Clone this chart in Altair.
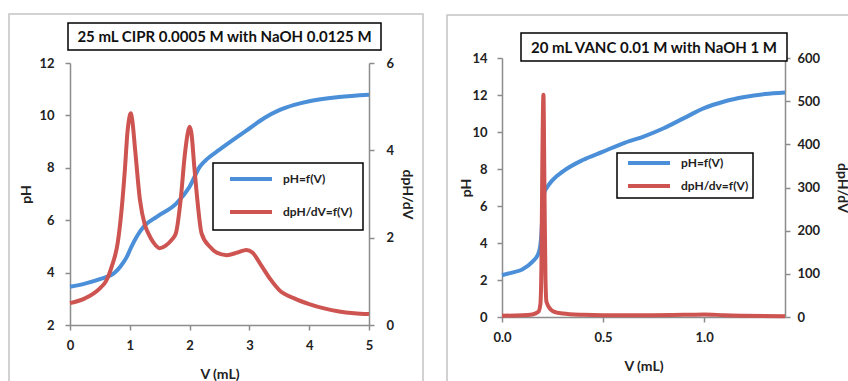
import altair as alt
import pandas as pd

# ---- CIPR titration (25 mL 0.0005 M with NaOH 0.0125 M) ----
cipr_v_ph = [0, 0.25, 0.5, 0.75, 0.85, 0.95, 1.03, 1.115, 1.23, 1.45, 1.78, 2.0,
             2.17, 2.3, 2.5, 2.75, 3.0, 3.25, 3.5, 3.75, 4.0, 4.5, 5.0]
cipr_ph = [3.46, 3.58, 3.75, 4.0, 4.25, 4.6, 5.0, 5.37, 5.75, 6.13, 6.64, 7.28,
           8.04, 8.35, 8.69, 9.1, 9.5, 9.9, 10.2, 10.4, 10.54, 10.7, 10.79]

cipr_v_d = [0, 0.25, 0.5, 0.6, 0.7, 0.8, 0.86, 0.92, 0.96, 1.0, 1.015, 1.04, 1.09,
            1.17, 1.25, 1.31, 1.4, 1.5, 1.6, 1.7, 1.77, 1.85, 1.92, 1.97, 2.0, 2.03,
            2.08, 2.13, 2.2, 2.34, 2.45, 2.62, 2.8, 2.95, 3.05, 3.2, 3.35, 3.5, 3.75,
            4.0, 4.25, 4.5, 4.75, 5.0]
cipr_d = [0.5, 0.61, 0.84, 1.0, 1.35, 1.9, 2.6, 3.6, 4.4, 4.8, 4.85, 4.7, 4.0,
          2.86, 2.3, 2.1, 1.88, 1.76, 1.82, 1.95, 2.1, 2.86, 3.9, 4.4, 4.54, 4.4,
          3.6, 2.86, 2.1, 1.79, 1.66, 1.60, 1.66, 1.72, 1.66, 1.36, 1.05, 0.8, 0.61,
          0.48, 0.38, 0.31, 0.27, 0.25]

# ---- VANC titration (20 mL 0.01 M with NaOH 1 M) ----
vanc_v_ph = [0, 0.05, 0.1, 0.15, 0.18, 0.19, 0.195, 0.2, 0.205, 0.21, 0.22, 0.25,
             0.3, 0.4, 0.5, 0.6, 0.7, 0.8, 0.9, 1.0, 1.1, 1.2, 1.3, 1.4]
vanc_ph = [2.26, 2.4, 2.57, 2.98, 3.43, 3.9, 4.5, 5.6, 6.4, 6.75, 6.96, 7.4,
           7.86, 8.49, 8.94, 9.39, 9.75, 10.2, 10.75, 11.29, 11.65, 11.89, 12.05, 12.14]

vanc_v_d = [0, 0.1, 0.15, 0.18, 0.19, 0.195, 0.2, 0.205, 0.21, 0.215, 0.22, 0.25,
            0.3, 0.4, 0.5, 0.7, 0.9, 1.0, 1.1, 1.2, 1.4]
vanc_d = [3, 4, 6, 12, 30, 120, 380, 515, 300, 90, 35, 14, 8, 5, 4, 4, 5, 6, 4, 3, 2]

cipr_labels = ["pH=f(V)", "dpH/dV=f(V)"]
vanc_labels = ["pH=f(V)", "dpH/dv=f(V)"]
cipr_title = "25 mL CIPR 0.0005 M with NaOH 0.0125 M"
vanc_title = "20 mL VANC 0.01 M with NaOH 1 M"

BLUE = "#4a8fd8"
RED = "#cd5450"
FONT = "Lato"
AXIS_GREY = "#8c8c8c"


def frame(xs, ys, labels):
    return pd.DataFrame({"V": xs, "val": ys, "series": labels})


df_c_ph = frame(cipr_v_ph, cipr_ph, cipr_labels[0])
df_c_d = frame(cipr_v_d, cipr_d, cipr_labels[1])
df_v_ph = frame(vanc_v_ph, vanc_ph, vanc_labels[0])
df_v_d = frame(vanc_v_d, vanc_d, vanc_labels[1])
one_row = pd.DataFrame({"k": [0]})


def axis(orient, offset, values, title, label_pad, title_pad, fmt=None):
    kw = dict(orient=orient, offset=offset, values=values, title=title,
              labelPadding=label_pad, titlePadding=title_pad, labelFlush=False)
    if fmt:
        kw["format"] = fmt
    return alt.Axis(**kw)


def legend(x, y, pad, row_pad):
    return alt.Legend(
        title=None, orient="none", legendX=x, legendY=y,
        strokeColor="black", fillColor="white", padding=pad,
        rowPadding=row_pad, symbolType="M-7,0H7", symbolSize=36,
        symbolStrokeWidth=4, symbolOffset=22, labelOffset=26,
        labelFont=FONT, labelFontSize=12, labelFontWeight="bold",
        labelColor="#222222",
    )


def panel(df_ph, df_d, labels, xdom, xrange, ybottom, ytop, phdom, ddom,
          xvals, xfmt, xoff, ph_axis, d_axis, leg):
    x_enc = alt.X(
        "V:Q",
        scale=alt.Scale(domain=xdom, range=xrange, nice=False, zero=False),
        axis=axis("bottom", xoff, xvals, "V (mL)", 9, 15, xfmt),
    )
    color = alt.Color(
        "series:N",
        scale=alt.Scale(domain=labels, range=[BLUE, RED]),
        legend=leg,
    )
    ph = alt.Chart(df_ph).mark_line(strokeWidth=4, interpolate="monotone").encode(
        x=x_enc,
        y=alt.Y("val:Q",
                scale=alt.Scale(domain=phdom, range=[ybottom, ytop], nice=False, zero=False),
                axis=ph_axis),
        color=color,
    )
    d = alt.Chart(df_d).mark_line(strokeWidth=4, interpolate="monotone").encode(
        x=x_enc,
        y=alt.Y("val:Q",
                scale=alt.Scale(domain=ddom, range=[ybottom, ytop], nice=False, zero=False),
                axis=d_axis),
        color=color,
    )
    return alt.layer(ph, d).resolve_scale(y="independent")


left = panel(
    df_c_ph, df_c_d, cipr_labels, [0, 5], [70, 369], 325, 63, [2, 12], [0, 6],
    [0, 1, 2, 3, 4, 5], None, -56,
    axis("left", -70, [2, 4, 6, 8, 10, 12], "pH", 11, 5),
    axis("right", -479, [0, 2, 4, 6], "dpH/dV", 12, 6),
    legend(213, 163, 10, 17),
)

right = panel(
    df_v_ph, df_v_d, vanc_labels, [0, 1.4], [502, 785], 317, 58, [0, 14], [0, 600],
    [0, 0.5, 1.0], ".1f", -64,
    axis("left", -502, [0, 2, 4, 6, 8, 10, 12, 14], "pH", 10, -2),
    axis("right", -63, [0, 100, 200, 300, 400, 500, 600], "dpH/dV", 7, 15),
    legend(617, 153, 4, 7),
)


def box(x1, x2, y1, y2, **style):
    return alt.Chart(one_row).mark_rect(**style).encode(
        x=alt.value(x1), x2=alt.value(x2), y=alt.value(y1), y2=alt.value(y2)
    )


def label(text, x, y):
    return alt.Chart(one_row).mark_text(
        text=text, font=FONT, fontWeight="bold", fontSize=15,
        align="center", baseline="middle", color="#111111",
    ).encode(x=alt.value(x), y=alt.value(y))


frames = [
    box(9, 423, 14, 420, fill="white", fillOpacity=0, stroke="#c4c4c4", strokeWidth=1.5),
    box(447, 900, 15, 420, fill="white", fillOpacity=0, stroke="#c4c4c4", strokeWidth=1.5),
]
titles = [
    box(68, 381, 23, 50, fill="white", stroke="black", strokeWidth=1.5),
    label(cipr_title, 224.5, 37),
    box(521, 787, 33, 61, fill="white", stroke="black", strokeWidth=1.5),
    label(vanc_title, 654, 47.5),
]

chart = alt.layer(*frames, left, right, *titles).resolve_scale(
    x="independent", y="independent", color="independent"
).properties(
    width=848, height=381, padding=0,
    autosize=alt.AutoSizeParams(type="none"),
    background="white",
).configure_view(
    strokeWidth=0
).configure_axis(
    grid=False,
    domainColor=AXIS_GREY, domainWidth=1.5,
    tickColor=AXIS_GREY, tickWidth=1.5, tickSize=5,
    labelFont=FONT, labelFontSize=13, labelFontWeight="bold", labelColor="#222222",
    titleFont=FONT, titleFontSize=14, titleFontWeight="bold", titleColor="#222222",
).configure_legend(
    strokeWidth=1.5
)

chart.save("out.html", embed_options={"renderer": "svg", "actions": False})
